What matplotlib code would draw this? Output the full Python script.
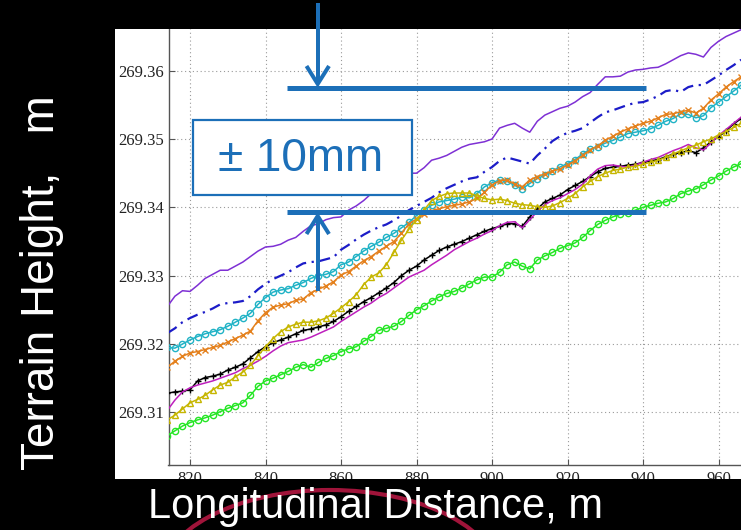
import matplotlib
matplotlib.use("Agg")
import matplotlib.pyplot as plt
from matplotlib.patches import Rectangle, Arc
from matplotlib.lines import Line2D
from matplotlib.transforms import Affine2D
import numpy as np

# ---------------- data ----------------
distance = list(range(814, 968, 2))  # m

# terrain heights given as mm above 269.300 m
purple_mm = [25.5, 27.0, 27.8, 27.7, 28.6, 29.6, 30.2, 30.8, 30.8, 31.4, 32.0, 32.8, 33.6, 34.2,
             34.3, 34.6, 35.2, 35.6, 36.5, 37.3, 37.6, 38.2, 38.5, 38.6, 39.6, 40.2, 41.0, 42.0,
             42.7, 43.6, 44.3, 44.6, 45.0, 45.0, 45.8, 46.9, 47.2, 47.6, 48.2, 48.8, 49.2, 49.4,
             49.6, 50.0, 51.6, 52.0, 52.3, 51.6, 51.0, 52.6, 53.5, 54.0, 54.5, 54.8, 55.4, 56.2,
             56.8, 58.0, 59.1, 59.1, 59.2, 59.8, 60.1, 60.2, 60.4, 60.5, 61.0, 61.6, 62.2, 62.6,
             62.4, 62.0, 63.4, 64.3, 65.0, 65.5, 66.0]
blue_mm = [21.6, 22.3, 23.2, 23.8, 24.3, 24.7, 25.2, 25.8, 26.0, 26.1, 26.3, 27.0, 28.0, 28.8,
           29.5, 30.0, 30.5, 31.2, 31.8, 32.0, 32.1, 32.4, 32.7, 33.8, 34.5, 35.3, 36.0, 36.6,
           37.1, 37.5, 38.1, 38.8, 39.6, 40.2, 40.8, 41.4, 42.2, 42.8, 43.3, 43.8, 44.2, 44.4,
           45.2, 45.9, 46.8, 47.3, 47.0, 46.7, 46.4, 47.6, 48.6, 49.7, 50.4, 50.9, 51.2, 51.6,
           52.4, 53.2, 53.9, 54.2, 54.6, 55.0, 55.3, 55.4, 55.8, 56.3, 57.0, 57.2, 56.9, 57.6,
           57.9, 57.9, 58.6, 59.3, 60.1, 60.8, 61.6]
cyan_mm = [19.5, 19.4, 20.0, 20.6, 21.1, 21.5, 21.8, 22.1, 22.6, 23.2, 23.8, 24.5, 25.8, 26.8,
           27.6, 27.9, 28.1, 28.6, 29.0, 29.6, 30.0, 30.2, 30.6, 31.6, 32.0, 32.8, 33.6, 34.3,
           34.9, 35.6, 36.2, 37.0, 37.8, 38.8, 39.6, 40.3, 40.8, 41.0, 41.2, 41.5, 41.4, 42.0,
           43.0, 43.6, 44.0, 43.8, 43.2, 42.7, 43.5, 44.2, 44.7, 45.3, 45.9, 46.4, 47.0, 47.8,
           48.5, 48.9, 49.4, 49.8, 50.3, 50.8, 51.0, 51.2, 51.5, 52.0, 52.6, 53.0, 53.7, 53.6,
           53.1, 53.4, 54.6, 55.4, 56.2, 57.0, 57.9]
orange_mm = [16.6, 17.5, 18.2, 18.7, 18.9, 19.2, 19.5, 19.8, 20.3, 20.8, 21.3, 21.9, 23.4, 24.6,
             25.4, 25.7, 25.9, 26.4, 26.6, 27.5, 28.0, 28.5, 29.1, 30.1, 30.6, 31.4, 32.2, 32.8,
             33.6, 34.3, 35.0, 36.2, 37.6, 38.3, 39.0, 39.5, 39.8, 40.1, 40.3, 40.5, 40.8, 41.3,
             42.2, 43.3, 43.9, 44.0, 43.4, 43.0, 44.0, 44.5, 44.9, 45.3, 45.6, 46.2, 46.8, 47.6,
             48.4, 49.0, 49.8, 50.4, 51.0, 51.5, 51.9, 52.3, 52.6, 53.1, 53.6, 53.7, 54.0, 54.2,
             53.8, 54.5, 55.7, 56.6, 57.6, 58.4, 59.1]
yellow_mm = [8.9, 9.6, 10.5, 11.4, 11.9, 12.5, 13.3, 14.0, 14.4, 15.2, 15.9, 16.9, 18.3, 19.6,
             20.8, 21.8, 22.5, 22.9, 23.2, 23.2, 23.4, 23.8, 24.5, 25.3, 26.2, 27.2, 28.7, 29.8,
             30.4, 31.6, 33.4, 35.2, 36.8, 38.2, 39.6, 41.0, 41.6, 42.0, 42.1, 42.1, 42.1, 41.7,
             41.3, 41.1, 41.2, 41.0, 40.6, 40.4, 40.3, 40.1, 40.0, 40.2, 40.7, 41.3, 42.0, 43.0,
             43.8, 44.5, 45.0, 45.4, 45.6, 45.9, 46.0, 46.3, 46.6, 46.9, 47.3, 47.8, 48.3, 48.7,
             49.1, 49.6, 50.0, 50.6, 51.1, 51.7, 52.3]
black_mm = [12.8, 13.0, 13.1, 13.3, 14.6, 15.1, 15.3, 15.6, 16.2, 16.6, 17.1, 18.0, 18.9, 19.6,
            20.2, 20.6, 21.0, 21.5, 22.0, 22.2, 22.5, 22.8, 23.3, 24.0, 24.8, 25.5, 26.2, 26.8,
            27.5, 28.2, 29.0, 30.0, 30.8, 31.4, 32.3, 33.0, 33.7, 34.2, 34.6, 35.0, 35.5, 36.0,
            36.5, 36.9, 37.2, 37.6, 37.6, 37.2, 38.6, 39.8, 40.8, 41.3, 41.8, 42.6, 43.2, 43.8,
            44.5, 45.2, 45.7, 45.9, 46.0, 46.2, 46.3, 46.6, 46.8, 47.0, 47.4, 47.8, 48.0, 48.3,
            48.0, 48.7, 49.6, 50.3, 51.2, 52.2, 53.0]
magenta_mm = [10.3, 11.8, 13.0, 13.6, 14.0, 14.3, 14.6, 15.0, 15.4, 15.8, 16.4, 16.9, 17.5, 18.2,
              19.0, 19.7, 20.2, 20.4, 20.6, 21.0, 21.5, 22.0, 22.5, 23.3, 24.0, 24.7, 25.4, 26.0,
              26.8, 27.4, 28.2, 29.0, 29.8, 30.3, 30.8, 31.6, 32.3, 33.0, 33.8, 34.4, 35.0, 35.5,
              36.1, 36.6, 37.3, 37.8, 37.9, 37.0, 38.2, 39.4, 40.4, 41.0, 41.4, 42.0, 42.6, 43.4,
              44.6, 45.6, 46.1, 46.2, 46.0, 45.9, 46.2, 46.6, 47.0, 47.3, 47.8, 48.3, 48.7, 49.2,
              48.7, 48.4, 49.4, 50.5, 51.4, 52.3, 53.2]
green_mm = [6.6, 7.3, 8.0, 8.5, 8.9, 9.2, 9.6, 10.1, 10.6, 11.0, 11.4, 12.5, 13.8, 14.6,
            15.0, 15.5, 16.0, 16.6, 17.0, 16.6, 17.3, 17.9, 18.3, 18.9, 19.3, 19.6, 20.4, 21.1,
            22.0, 22.3, 22.6, 23.3, 24.2, 25.0, 25.6, 26.3, 26.9, 27.4, 27.7, 28.2, 28.8, 29.4,
            29.8, 29.8, 30.5, 31.6, 32.0, 31.4, 31.0, 32.3, 32.9, 33.4, 34.0, 34.4, 34.8, 35.6,
            36.6, 37.5, 38.1, 38.6, 39.0, 39.2, 39.6, 40.0, 40.3, 40.6, 40.8, 41.3, 42.0, 42.4,
            42.7, 43.3, 44.0, 44.6, 45.3, 45.9, 46.4]

x_ticks = [820, 840, 860, 880, 900, 920, 940, 960]
y_ticks = [269.31, 269.32, 269.33, 269.34, 269.35, 269.36]
y_tick_labels = ["269.31", "269.32", "269.33", "269.34", "269.35", "269.36"]
band_label = "\u00b1 10mm"
x_label = "Longitudinal Distance, m"
y_label = "Terrain Height,   m"

BASE = 269.3


def h(mm):
    return [BASE + v / 1000.0 for v in mm]


# ---------------- figure ----------------
W, H = 741, 530
fig = plt.figure(figsize=(W / 100, H / 100), dpi=100, facecolor="black")
px = Affine2D().scale(1.0 / W, -1.0 / H).translate(0, 1) + fig.transFigure

# white image panel
fig.add_artist(Rectangle((115, 29), W - 115, 479 - 29, transform=px,
                         facecolor="white", edgecolor="none", zorder=-1))

ax_l, ax_r, ax_t, ax_b = 168.5, 741, 29, 465
ax = fig.add_axes([ax_l / W, 1 - ax_b / H, (ax_r - ax_l) / W, (ax_b - ax_t) / H])
ax.set_facecolor("white")
ax.set_xlim(814.3, 965.96)
ax.set_ylim(269.3023, 269.3661)

lw = 1.1
ax.plot(distance, h(purple_mm), color="#7e30d4", lw=lw, zorder=3)
ax.plot(distance, h(blue_mm), color="#1c1cc8", lw=1.6, ls=(0, (5, 2.5, 1, 2.5)), zorder=3)
ax.plot(distance, h(cyan_mm), color="#21b3c6", lw=lw, marker="o", ms=4.5, mfc="none", mew=1.0, zorder=3)
ax.plot(distance, h(orange_mm), color="#e4801c", lw=lw, marker="x", ms=4, mew=1.0, zorder=3)
ax.plot(distance, h(black_mm), color="black", lw=lw, marker="+", ms=5, mew=1.0, zorder=3)
ax.plot(distance, h(magenta_mm), color="#bd1fbd", lw=lw, zorder=3)
ax.plot(distance, h(yellow_mm), color="#c6b600", lw=lw, marker="^", ms=5, mfc="none", mew=1.0, zorder=3)
ax.plot(distance, h(green_mm), color="#25e625", lw=lw, marker="o", ms=4.5, mfc="none", mew=1.0, zorder=3)

ax.set_xticks(x_ticks)
ax.set_yticks(y_ticks)
ax.set_yticklabels(y_tick_labels)
ax.grid(True, color="#9a9a9a", ls=(0, (1, 2.5)), lw=0.8)
for s in ("top", "right"):
    ax.spines[s].set_visible(False)
for s in ("left", "bottom"):
    ax.spines[s].set_color("#555555")
    ax.spines[s].set_linewidth(1.0)
ax.tick_params(direction="in", length=4, width=0.8, color="#555555",
               labelsize=12, labelcolor="#222222")
ax.tick_params(axis="y", pad=3)
ax.tick_params(axis="x", pad=4)
for lab in ax.get_xticklabels() + ax.get_yticklabels():
    lab.set_fontfamily("Liberation Serif")

# black surround covering cut-off tick labels
fig.add_artist(Rectangle((0, 479), W, H - 479, transform=px,
                         facecolor="black", edgecolor="none", zorder=5))
fig.add_artist(Rectangle((0, 0), W, 29, transform=px,
                         facecolor="black", edgecolor="none", zorder=5))

# decorative red arc behind the x label
fig.add_artist(Arc((330, 580), 340, 180, theta1=180, theta2=360, transform=px,
                   color="#a0143a", lw=3, zorder=6))

# ---------------- annotation in blue ----------------
blue = "#1c6fb8"
z = 8
lw_bar = 5 * 0.72
lw_arr = 4 * 0.72
for yy in (87.5, 212.3):
    fig.add_artist(Line2D([287, 646], [yy, yy], transform=px, color=blue, lw=lw_bar,
                          solid_capstyle="butt", zorder=z))
# down arrow
fig.add_artist(Line2D([317.7, 317.7], [3, 84], transform=px, color=blue, lw=lw_arr,
                      solid_capstyle="butt", zorder=z))
fig.add_artist(Line2D([306.5, 317.7, 329], [66, 84, 66], transform=px, color=blue, lw=lw_arr,
                      solid_capstyle="butt", solid_joinstyle="miter", zorder=z))
# up arrow
fig.add_artist(Line2D([317.7, 317.7], [291, 216], transform=px, color=blue, lw=lw_arr,
                      solid_capstyle="butt", zorder=z))
fig.add_artist(Line2D([306.5, 317.7, 329], [234, 216, 234], transform=px, color=blue, lw=lw_arr,
                      solid_capstyle="butt", solid_joinstyle="miter", zorder=z))
# box with label
fig.add_artist(Rectangle((192.5, 119.5), 219, 75.5, transform=px, facecolor="white",
                         edgecolor=blue, lw=1.6, zorder=z + 1))
fig.text(301 / W, 1 - 159 / H, band_label, color=blue, fontsize=33,
         family="Liberation Sans", ha="center", va="center", zorder=z + 2)

# ---------------- axis titles ----------------
fig.text(376 / W, 1 - 518 / H, x_label, color="white", fontsize=30,
         family="Liberation Sans", ha="center", va="baseline", zorder=9)
fig.text(42 / W, 1 - 283 / H, y_label, color="white", fontsize=33, rotation=90,
         family="Liberation Sans", ha="center", va="center", zorder=9)

fig.savefig("out.png", dpi=100, facecolor="black")
